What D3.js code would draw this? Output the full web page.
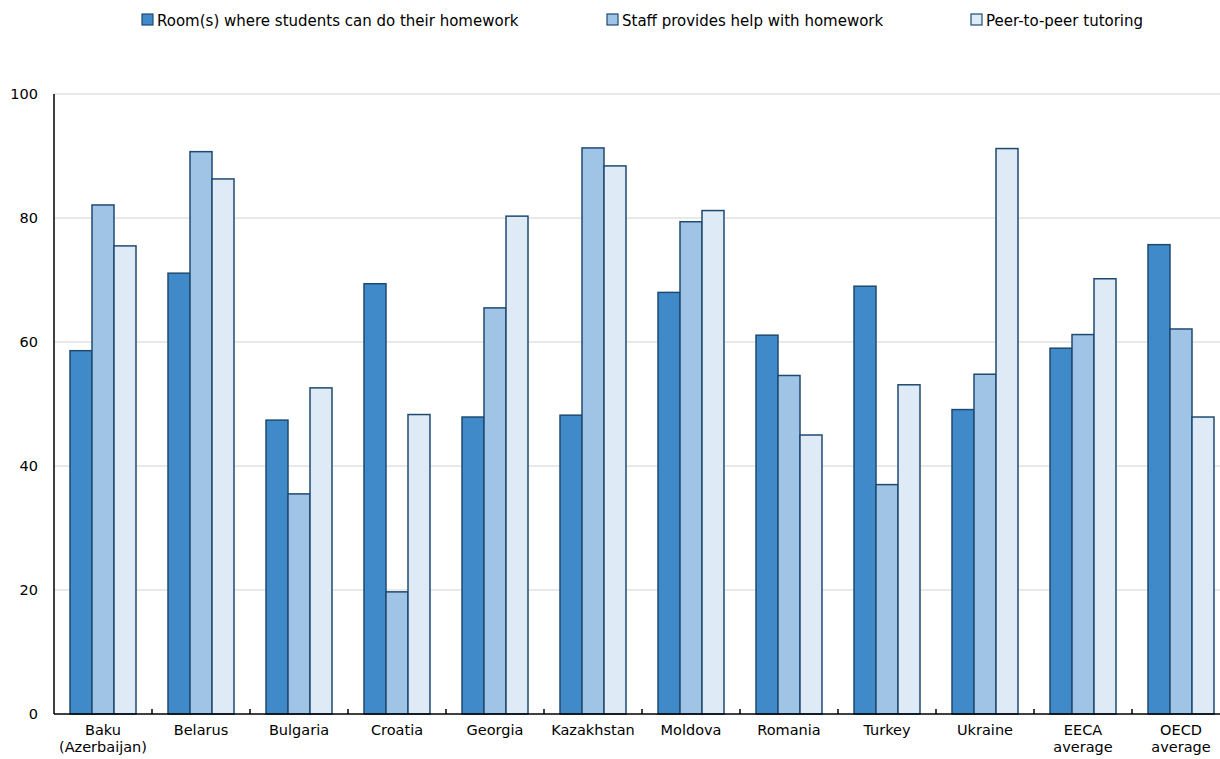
<!DOCTYPE html>
<html><head><meta charset="utf-8">
<script src="https://cdn.jsdelivr.net/npm/d3@7"></script>
<style>body{margin:0;background:#fff}svg{display:block}text{font-family:"DejaVu Sans",Verdana,sans-serif;fill:#000}</style>
</head><body><svg id="c" width="1220" height="759"></svg>
<script>
const categories = [["Baku","(Azerbaijan)"],["Belarus"],["Bulgaria"],["Croatia"],["Georgia"],["Kazakhstan"],["Moldova"],["Romania"],["Turkey"],["Ukraine"],["EECA","average"],["OECD","average"]];
const seriesNames = ["Room(s) where students can do their homework","Staff provides help with homework","Peer-to-peer tutoring"];
const room = [58.6,71.1,47.4,69.4,47.9,48.2,68.0,61.1,69.0,49.1,59.0,75.7];
const staff = [82.1,90.7,35.5,19.7,65.5,91.3,79.4,54.6,37.0,54.8,61.2,62.1];
const peer = [75.5,86.3,52.6,48.3,80.3,88.4,81.2,45.0,53.1,91.2,70.2,47.9];
const yTicks = [0,20,40,60,80,100];
const colors = ["#418AC9","#A0C4E5","#DEEAF5"];
const stroke = "#1F4A70";

const svg = d3.select("#c");
const pL = 54, pR = 1230, pT = 94, pB = 714;
const catKeys = categories.map(c => c.join(" "));
const x = d3.scaleBand().domain(catKeys).range([pL, pR]).paddingInner(32/98).paddingOuter(16/98);
const x1 = d3.scaleBand().domain([0,1,2]).range([0, x.bandwidth()]);
const y = d3.scaleLinear().domain([0,100]).range([pB, pT]);

// gridlines
svg.append("g").selectAll("line").data(yTicks.filter(d=>d>0)).join("line")
  .attr("x1", pL).attr("x2", 1220).attr("y1", d=>y(d)).attr("y2", d=>y(d))
  .attr("stroke", "#e2e2e2").attr("stroke-width", 1.5);

// y labels
svg.append("g").selectAll("text").data(yTicks).join("text")
  .attr("x", 38).attr("y", d=>y(d)).attr("dy","0.35em").attr("text-anchor","end")
  .attr("font-size", 14.5).text(d=>d);

// bars
const series = [room, staff, peer];
const g = svg.append("g");
series.forEach((vals, si) => {
  g.selectAll(".s"+si).data(vals).join("rect").attr("class","s"+si)
    .attr("x", (d,i) => x(catKeys[i]) + x1(si))
    .attr("width", x1.bandwidth())
    .attr("y", d => y(d))
    .attr("height", d => y(0) - y(d))
    .attr("fill", colors[si]).attr("stroke", stroke).attr("stroke-width", 1.5);
});

// axes
svg.append("line").attr("x1", pL).attr("x2", pL).attr("y1", pT).attr("y2", pB).attr("stroke","#000").attr("stroke-width",1.5);
svg.append("line").attr("x1", pL).attr("x2", 1220).attr("y1", pB).attr("y2", pB).attr("stroke","#000").attr("stroke-width",1.5);
svg.append("g").selectAll("line").data(catKeys.slice(1)).join("line")
  .attr("x1", d=>x(d)-16).attr("x2", d=>x(d)-16).attr("y1", pB).attr("y2", pB-5)
  .attr("stroke","#000").attr("stroke-width",1.5);

// category labels
const cl = svg.append("g").selectAll("text").data(categories).join("text")
  .attr("text-anchor","middle").attr("font-size",14.5)
  .attr("x", (d,i)=> x(catKeys[i]) + x.bandwidth()/2).attr("y", 735);
cl.selectAll("tspan").data(d=>d).join("tspan")
  .attr("x", function(){return this.parentNode.getAttribute("x");})
  .attr("dy", (d,i)=> i===0 ? 0 : 17).text(d=>d);

// legend
const legX = [142, 607, 971];
const lg = svg.append("g").selectAll("g").data(seriesNames).join("g")
  .attr("transform", (d,i)=>`translate(${legX[i]},14)`);
lg.append("rect").attr("width",11).attr("height",11).attr("fill",(d,i)=>colors[i]).attr("stroke",stroke).attr("stroke-width",1.2);
lg.append("text").attr("x",15).attr("y",11.5).attr("font-size",15).text(d=>d);
</script></body></html>
